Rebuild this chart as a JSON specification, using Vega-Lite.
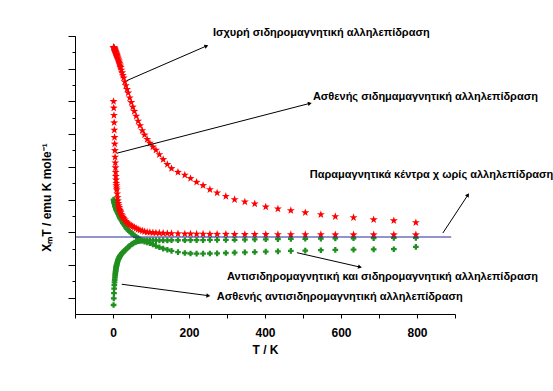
{
  "$schema": "https://vega.github.io/schema/vega-lite/v6.json",
  "width": 380,
  "height": 278,
  "autosize": "none",
  "padding": {"left": 75, "top": 36, "right": 98, "bottom": 77},
  "background": "white",
  "config": {
    "view": {"stroke": null},
    "axis": {"grid": false, "domainColor": "black", "tickColor": "black", "labelColor": "black", "titleColor": "black",
      "labelFont": "Liberation Sans", "labelFontWeight": "bold", "labelFontSize": 12,
      "titleFont": "Liberation Sans", "titleFontWeight": "bold", "titleFontSize": 12}
  },
  "resolve": {"axis": {"x": "independent", "y": "independent"}},
  "datasets": {
    "chi": [
      {"T":1.5,"s":16.3,"w":13.0,"f":7.0,"a":0.55},
      {"T":2,"s":16.3,"w":12.6,"f":6.95,"a":0.95},
      {"T":2.5,"s":16.28,"w":12.15,"f":6.9,"a":1.28},
      {"T":3,"s":16.25,"w":11.7,"f":6.85,"a":1.55},
      {"T":3.5,"s":16.22,"w":11.25,"f":6.8,"a":1.76},
      {"T":4,"s":16.2,"w":10.8,"f":6.75,"a":1.94},
      {"T":4.5,"s":16.17,"w":10.4,"f":6.71,"a":2.09},
      {"T":5,"s":16.14,"w":10.0,"f":6.67,"a":2.22},
      {"T":5.5,"s":16.1,"w":9.6,"f":6.63,"a":2.34},
      {"T":6,"s":16.07,"w":9.25,"f":6.59,"a":2.45},
      {"T":6.5,"s":16.03,"w":8.95,"f":6.55,"a":2.55},
      {"T":7,"s":16.0,"w":8.67,"f":6.51,"a":2.64},
      {"T":7.5,"s":15.97,"w":8.42,"f":6.47,"a":2.72},
      {"T":8,"s":15.93,"w":8.2,"f":6.44,"a":2.8},
      {"T":8.5,"s":15.9,"w":8.0,"f":6.41,"a":2.87},
      {"T":9,"s":15.87,"w":7.85,"f":6.38,"a":2.93},
      {"T":9.5,"s":15.83,"w":7.72,"f":6.35,"a":2.99},
      {"T":10,"s":15.8,"w":7.6,"f":6.32,"a":3.04},
      {"T":11,"s":15.75,"w":7.35,"f":6.27,"a":3.13},
      {"T":12,"s":15.68,"w":7.12,"f":6.22,"a":3.21},
      {"T":13,"s":15.62,"w":6.93,"f":6.17,"a":3.28},
      {"T":14,"s":15.55,"w":6.77,"f":6.12,"a":3.34},
      {"T":15,"s":15.48,"w":6.63,"f":6.07,"a":3.39},
      {"T":16,"s":15.4,"w":6.52,"f":6.02,"a":3.44},
      {"T":17,"s":15.32,"w":6.42,"f":5.97,"a":3.48},
      {"T":18,"s":15.24,"w":6.34,"f":5.92,"a":3.52},
      {"T":19,"s":15.16,"w":6.27,"f":5.87,"a":3.56},
      {"T":20,"s":15.08,"w":6.2,"f":5.83,"a":3.6},
      {"T":22,"s":14.92,"w":6.1,"f":5.74,"a":3.66},
      {"T":24,"s":14.76,"w":6.0,"f":5.66,"a":3.72},
      {"T":26,"s":14.6,"w":5.92,"f":5.58,"a":3.77},
      {"T":28,"s":14.44,"w":5.85,"f":5.5,"a":3.82},
      {"T":31,"s":14.2,"w":5.76,"f":5.4,"a":3.88},
      {"T":34,"s":13.97,"w":5.67,"f":5.3,"a":3.95},
      {"T":37,"s":13.74,"w":5.59,"f":5.21,"a":4.02},
      {"T":40,"s":13.52,"w":5.52,"f":5.13,"a":4.09},
      {"T":44,"s":13.22,"w":5.45,"f":5.04,"a":4.17},
      {"T":48,"s":12.94,"w":5.39,"f":4.96,"a":4.24},
      {"T":52,"s":12.66,"w":5.35,"f":4.88,"a":4.3},
      {"T":56,"s":12.4,"w":5.3,"f":4.81,"a":4.36},
      {"T":61,"s":12.1,"w":5.24,"f":4.72,"a":4.41},
      {"T":66,"s":11.8,"w":5.18,"f":4.64,"a":4.45},
      {"T":71,"s":11.52,"w":5.13,"f":4.57,"a":4.47},
      {"T":77,"s":11.22,"w":5.08,"f":4.5,"a":4.49},
      {"T":83,"s":10.95,"w":5.04,"f":4.43,"a":4.5},
      {"T":90,"s":10.68,"w":5.01,"f":4.38,"a":4.5},
      {"T":97,"s":10.45,"w":4.99,"f":4.33,"a":4.5},
      {"T":105,"s":10.22,"w":4.97,"f":4.25,"a":4.5},
      {"T":113,"s":10.02,"w":4.96,"f":4.17,"a":4.5},
      {"T":122,"s":9.75,"w":4.95,"f":4.08,"a":4.5},
      {"T":132,"s":9.45,"w":4.94,"f":4.0,"a":4.5},
      {"T":143,"s":9.15,"w":4.93,"f":3.93,"a":4.5},
      {"T":154,"s":8.9,"w":4.92,"f":3.86,"a":4.51},
      {"T":171,"s":8.67,"w":4.91,"f":3.78,"a":4.51},
      {"T":189,"s":8.5,"w":4.9,"f":3.73,"a":4.51},
      {"T":204,"s":8.29,"w":4.9,"f":3.7,"a":4.52},
      {"T":220,"s":8.06,"w":4.89,"f":3.69,"a":4.52},
      {"T":237,"s":7.86,"w":4.89,"f":3.69,"a":4.52},
      {"T":255,"s":7.61,"w":4.88,"f":3.7,"a":4.53},
      {"T":274,"s":7.41,"w":4.88,"f":3.71,"a":4.53},
      {"T":297,"s":7.2,"w":4.88,"f":3.73,"a":4.53},
      {"T":320,"s":7.0,"w":4.87,"f":3.75,"a":4.54},
      {"T":347,"s":6.86,"w":4.87,"f":3.77,"a":4.55},
      {"T":373,"s":6.74,"w":4.87,"f":3.79,"a":4.56},
      {"T":402,"s":6.55,"w":4.87,"f":3.81,"a":4.57},
      {"T":434,"s":6.43,"w":4.86,"f":3.83,"a":4.58},
      {"T":468,"s":6.33,"w":4.86,"f":3.86,"a":4.59},
      {"T":506,"s":6.2,"w":4.86,"f":3.88,"a":4.6},
      {"T":547,"s":6.08,"w":4.86,"f":3.9,"a":4.61},
      {"T":585,"s":5.96,"w":4.85,"f":3.92,"a":4.62},
      {"T":633,"s":5.9,"w":4.85,"f":3.94,"a":4.63},
      {"T":686,"s":5.77,"w":4.85,"f":3.95,"a":4.64},
      {"T":739,"s":5.71,"w":4.85,"f":3.96,"a":4.65},
      {"T":797,"s":5.59,"w":4.85,"f":4.1,"a":4.65}
    ],
    "para": [{"T0": -100, "T1": 890, "v": 4.71}],
    "arrows": [
      {"id": 1, "T1": 36, "v1": 14.27, "T2": 246, "v2": 16.39},
      {"id": 2, "T1": 9.7, "v1": 9.83, "T2": 518, "v2": 12.88},
      {"id": 3, "T1": 868, "v1": 4.95, "T2": 934, "v2": 7.28},
      {"id": 4, "T1": 484, "v1": 3.75, "T2": 650, "v2": 2.87},
      {"id": 5, "T1": 23, "v1": 1.82, "T2": 251, "v2": 1.12}
    ],
    "labels": [
      {"txt": "Ισχυρή σιδηρομαγνητική αλληλεπίδραση", "T": 263, "v": 17.18},
      {"txt": "Ασθενής σιδημαμαγνητική αλληλεπίδραση", "T": 526, "v": 13.29},
      {"txt": "Παραμαγνητικά κέντρα χ ωρίς αλληλεπίδραση", "T": 518, "v": 8.5},
      {"txt": "Αντισιδηρομαγνητική και σιδηρομαγνητική αλληλεπίδραση", "T": 300, "v": 2.26},
      {"txt": "Ασθενής αντισιδηρομαγνητική αλληλεπίδραση", "T": 273, "v": 1.04}
    ]
  },
  "layer": [
    {
      "mark": {"type": "rect", "color": "#f4f1f1", "clip": false},
      "encoding": {
        "x": {"datum": -266, "type": "quantitative", "axis": null},
        "x2": {"datum": 1044},
        "y": {"datum": 17.61, "type": "quantitative", "axis": null},
        "y2": {"datum": -3.42}
      }
    },
    {
      "data": {"name": "chi"},
      "transform": [{"fold": ["f", "a"], "as": ["series", "v"]}],
      "mark": {"type": "point", "shape": "cross", "filled": true, "opacity": 1, "color": "#1f8f1f", "size": 32},
      "encoding": {
        "x": {"field": "T", "type": "quantitative", "scale": {"domain": [-100, 900], "nice": false, "zero": false},
          "axis": {"orient": "bottom", "title": "T / K", "values": [-100, 0, 100, 200, 300, 400, 500, 600, 700, 800, 900],
            "labelExpr": "datum.value >= 0 && datum.value <= 800 && datum.value % 200 === 0 ? datum.label : ''",
            "tickSize": 4, "labelPadding": 9, "titlePadding": 6, "labelFlush": false, "labelOverlap": false, "zindex": 1}},
        "y": {"field": "v", "type": "quantitative", "scale": {"domain": [0, 17], "nice": false},
          "axis": {"orient": "left", "title": "XₘT / emu K mole⁻¹", "values": [1,2,3,4,5,6,7,8,9,10,11,12,13,14,15,16,17], "labels": false,
            "tickSize": 3, "titleX": -29, "titleY": 161, "titleAlign": "center", "titleBaseline": "middle", "zindex": 1}}
      }
    },
    {
      "data": {"name": "chi"},
      "transform": [{"fold": ["w", "s"], "as": ["series", "v"]}],
      "mark": {"type": "point", "shape": "M0,-1L0.235,-0.324L0.951,-0.309L0.38,0.124L0.588,0.809L0,0.4L-0.588,0.809L-0.38,0.124L-0.951,-0.309L-0.235,-0.324Z", "filled": true, "opacity": 1, "color": "#ff0000", "size": 70},
      "encoding": {
        "x": {"field": "T", "type": "quantitative", "axis": null},
        "y": {"field": "v", "type": "quantitative",
          "axis": {"orient": "left", "title": null, "values": [1,3,5,7,9,11,13,15,17], "labels": false, "domain": false, "tickSize": 7, "zindex": 1}}
      }
    },
    {
      "data": {"name": "para"},
      "mark": {"type": "rule", "color": "#2a2a9a", "strokeWidth": 1.2},
      "encoding": {
        "x": {"field": "T0", "type": "quantitative", "axis": null},
        "x2": {"field": "T1"},
        "y": {"field": "v", "type": "quantitative", "axis": null}
      }
    },
    {
      "data": {"name": "arrows"},
      "mark": {"type": "rule", "color": "black", "strokeWidth": 1},
      "encoding": {
        "x": {"field": "T1", "type": "quantitative", "axis": null},
        "x2": {"field": "T2"},
        "y": {"field": "v1", "type": "quantitative", "axis": null},
        "y2": {"field": "v2"}
      }
    },
    {
      "data": {"name": "arrows"},
      "transform": [{"filter": "datum.id === 1"}],
      "mark": {"type": "point", "shape": "triangle-right", "filled": true, "opacity": 1, "color": "black", "size": 20, "angle": -23},
      "encoding": {"x": {"field": "T2", "type": "quantitative", "axis": null}, "y": {"field": "v2", "type": "quantitative", "axis": null}}
    },
    {
      "data": {"name": "arrows"},
      "transform": [{"filter": "datum.id === 2"}],
      "mark": {"type": "point", "shape": "triangle-right", "filled": true, "opacity": 1, "color": "black", "size": 20, "angle": -14},
      "encoding": {"x": {"field": "T2", "type": "quantitative", "axis": null}, "y": {"field": "v2", "type": "quantitative", "axis": null}}
    },
    {
      "data": {"name": "arrows"},
      "transform": [{"filter": "datum.id === 3"}],
      "mark": {"type": "point", "shape": "triangle-right", "filled": true, "opacity": 1, "color": "black", "size": 20, "angle": -57},
      "encoding": {"x": {"field": "T2", "type": "quantitative", "axis": null}, "y": {"field": "v2", "type": "quantitative", "axis": null}}
    },
    {
      "data": {"name": "arrows"},
      "transform": [{"filter": "datum.id === 4"}],
      "mark": {"type": "point", "shape": "triangle-right", "filled": true, "opacity": 1, "color": "black", "size": 20, "angle": 13},
      "encoding": {"x": {"field": "T2", "type": "quantitative", "axis": null}, "y": {"field": "v2", "type": "quantitative", "axis": null}}
    },
    {
      "data": {"name": "arrows"},
      "transform": [{"filter": "datum.id === 5"}],
      "mark": {"type": "point", "shape": "triangle-right", "filled": true, "opacity": 1, "color": "black", "size": 20, "angle": 7},
      "encoding": {"x": {"field": "T2", "type": "quantitative", "axis": null}, "y": {"field": "v2", "type": "quantitative", "axis": null}}
    },
    {
      "data": {"name": "labels"},
      "mark": {"type": "text", "align": "left", "baseline": "middle", "font": "Liberation Sans", "fontWeight": "bold", "fontSize": 11, "color": "black"},
      "encoding": {
        "x": {"field": "T", "type": "quantitative", "axis": null},
        "y": {"field": "v", "type": "quantitative", "axis": null},
        "text": {"field": "txt"}
      }
    }
  ]
}
